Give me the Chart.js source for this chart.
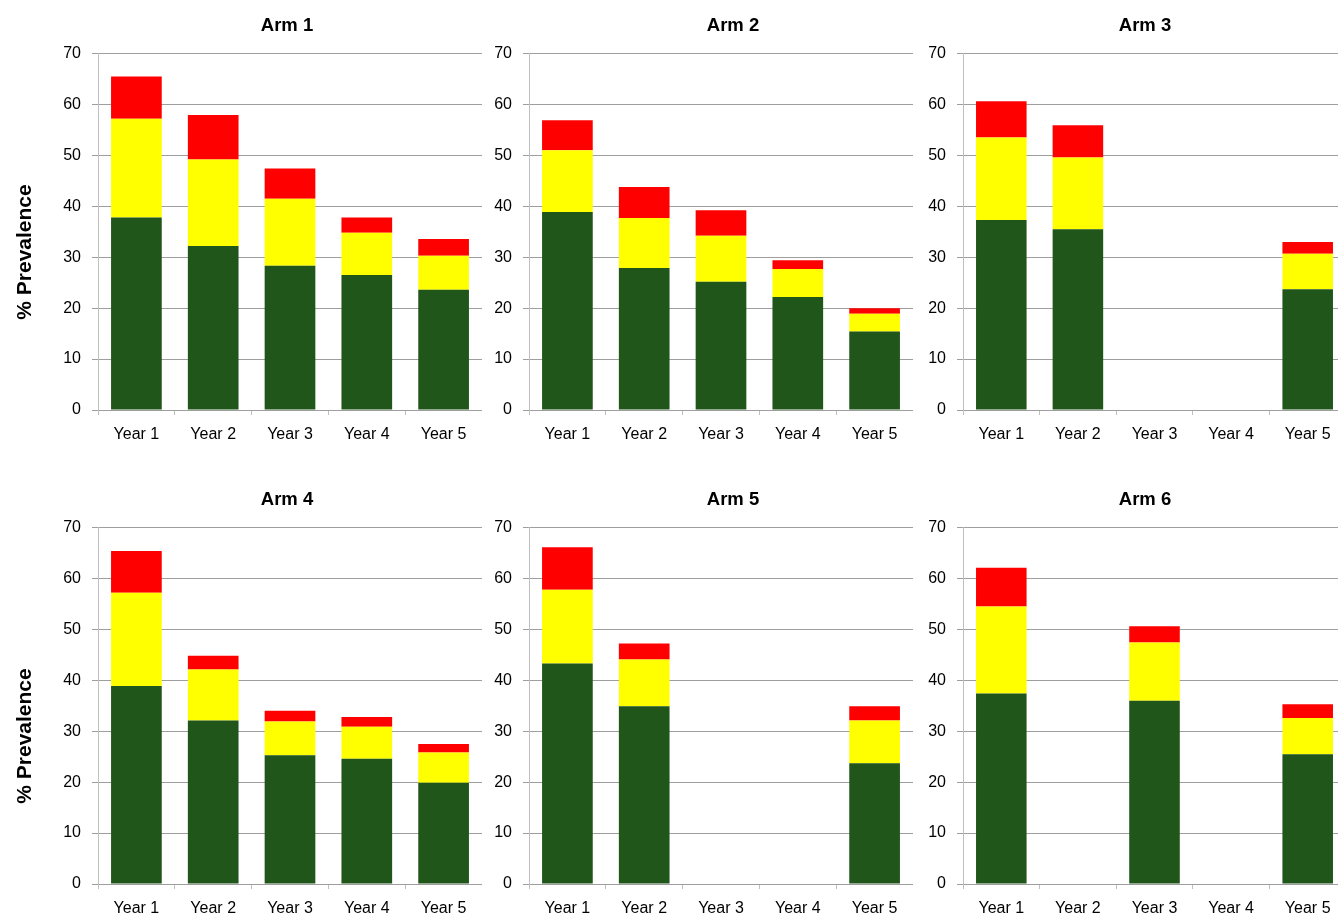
<!DOCTYPE html>
<html>
<head>
<meta charset="utf-8">
<title>% Prevalence by arm and year</title>
<script src="https://cdn.jsdelivr.net/npm/chart.js@4.4.1/dist/chart.umd.min.js"></script>
<style>
  html, body { margin: 0; padding: 0; background: #ffffff; }
  body { width: 1338px; height: 914px; overflow: hidden; position: relative; }
  canvas { position: absolute; }
</style>
</head>
<body>
<script>
// Categories and panel titles
const years = ['Year 1', 'Year 2', 'Year 3', 'Year 4', 'Year 5'];
const armTitles = ['Arm 1', 'Arm 2', 'Arm 3', 'Arm 4', 'Arm 5', 'Arm 6'];
const yTicks = [0, 10, 20, 30, 40, 50, 60, 70];

// Stacked segment values (%), one row per arm; null = not surveyed
const greenValues = [
  [37.8, 32.2, 28.3, 26.5, 23.6],
  [38.9, 27.9, 25.2, 22.2, 15.4],
  [37.3, 35.5, null, null, 23.7],
  [38.9, 32.1, 25.3, 24.6, 19.9],
  [43.3, 34.9, null, null, 23.7],
  [37.4, null, 36.0, null, 25.5]
];
const yellowValues = [
  [19.4, 17.0, 13.2, 8.3, 6.7],
  [12.1, 9.8, 9.0, 5.5, 3.5],
  [16.2, 14.1, null, null, 7.0],
  [18.3, 10.0, 6.6, 6.3, 5.9],
  [14.5, 9.2, null, null, 8.4],
  [17.1, null, 11.4, null, 7.1]
];
const redValues = [
  [8.3, 8.7, 5.9, 3.0, 3.3],
  [5.9, 6.1, 5.0, 1.7, 1.1],
  [7.1, 6.3, null, null, 2.3],
  [8.2, 2.7, 2.1, 1.9, 1.7],
  [8.3, 3.1, null, null, 2.8],
  [7.6, null, 3.2, null, 2.7]
];

const GREEN = '#21561b';
const YELLOW = '#ffff00';
const RED = '#ff0000';
const GRID = '#9e9e9e';
const AXIS = '#bfbfbf';
const FONT = '"Liberation Sans", Arial, sans-serif';

// Panel placement: canvas box, y-axis width, title centre, rotated axis title position
const panels = [
  { left: 0,   top: 0,   width: 482, yWidth: 98, titleX: 287, yTitle: { x: 25, y: 252 } },
  { left: 482, top: 0,   width: 431, yWidth: 47, titleX: 251 },
  { left: 913, top: 0,   width: 433, yWidth: 50, titleX: 232 },
  { left: 0,   top: 474, width: 482, yWidth: 98, titleX: 287, yTitle: { x: 25, y: 262 } },
  { left: 482, top: 474, width: 431, yWidth: 47, titleX: 251 },
  { left: 913, top: 474, width: 433, yWidth: 50, titleX: 232 }
];

// Draws the panel heading and the rotated "% Prevalence" label
const panelTextPlugin = {
  id: 'panelText',
  afterDraw(chart, args, opts) {
    const ctx = chart.ctx;
    ctx.save();
    ctx.fillStyle = '#000000';
    ctx.textAlign = 'center';
    ctx.textBaseline = 'middle';
    if (opts.title) {
      ctx.font = 'bold 18.5px ' + FONT;
      ctx.fillText(opts.title, opts.titleX, 26);
    }
    if (opts.axisText) {
      ctx.translate(opts.axisX, opts.axisY);
      ctx.rotate(-Math.PI / 2);
      ctx.font = 'bold 21px ' + FONT;
      ctx.fillText(opts.axisText, 0, 0);
    }
    ctx.restore();
  }
};

panels.forEach((p, i) => {
  const canvas = document.createElement('canvas');
  canvas.width = p.width;
  canvas.height = 450;
  canvas.style.left = p.left + 'px';
  canvas.style.top = p.top + 'px';
  canvas.style.width = p.width + 'px';
  canvas.style.height = '450px';
  document.body.appendChild(canvas);

  new Chart(canvas.getContext('2d'), {
    type: 'bar',
    data: {
      labels: years,
      datasets: [
        { label: 'Green', data: greenValues[i], backgroundColor: GREEN },
        { label: 'Yellow', data: yellowValues[i], backgroundColor: YELLOW },
        { label: 'Red', data: redValues[i], backgroundColor: RED }
      ]
    },
    options: {
      responsive: false,
      animation: false,
      devicePixelRatio: 1,
      layout: { padding: { left: 0, top: 53.5, bottom: 0, right: 0 } },
      datasets: { bar: { barPercentage: 0.66, categoryPercentage: 1, borderWidth: 0 } },
      plugins: {
        legend: { display: false },
        tooltip: { enabled: false },
        title: { display: false },
        panelText: {
          title: armTitles[i],
          titleX: p.titleX,
          axisText: p.yTitle ? '% Prevalence' : '',
          axisX: p.yTitle ? p.yTitle.x : 0,
          axisY: p.yTitle ? p.yTitle.y : 0
        }
      },
      scales: {
        x: {
          stacked: true,
          offset: true,
          grid: { offset: true, drawOnChartArea: false, drawTicks: true, tickLength: 5, color: AXIS },
          border: { display: true, color: GRID },
          ticks: { color: '#000000', font: { family: FONT, size: 16 }, padding: 9.5, maxRotation: 0 },
          afterFit: (s) => { s.height = 40; }
        },
        y: {
          stacked: true,
          min: 0,
          max: 70,
          afterBuildTicks: (s) => { s.ticks = yTicks.map(v => ({ value: v })); },
          grid: { color: GRID, tickLength: 6, drawTicks: true },
          border: { display: true, color: AXIS },
          ticks: { color: '#000000', font: { family: FONT, size: 16 }, padding: 11 },
          afterFit: (s) => { s.width = p.yWidth; }
        }
      }
    },
    plugins: [panelTextPlugin]
  });
});
</script>
</body>
</html>
